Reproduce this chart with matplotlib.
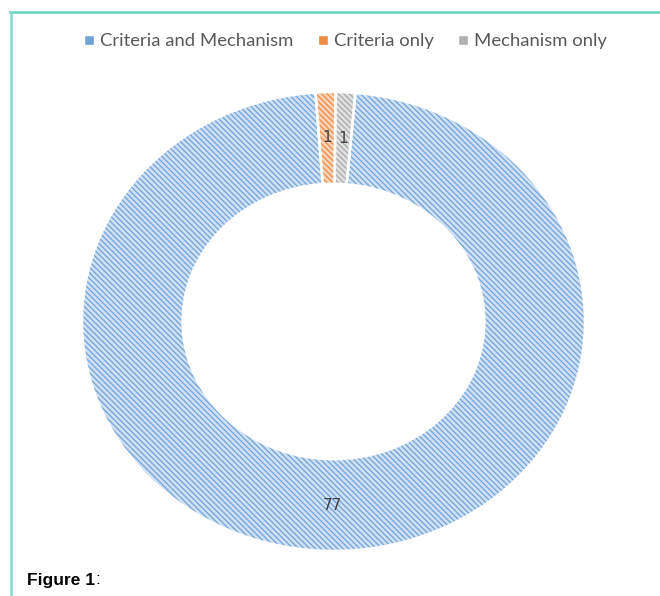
import matplotlib.pyplot as plt
from matplotlib.lines import Line2D

categories = ["Criteria and Mechanism", "Criteria only", "Mechanism only"]
counts = [77, 1, 1]
fill_colors = ["#cfe0f4", "#f9d3b8", "#e0e0e0"]
hatch_colors = ["#6fa3d8", "#ee8a45", "#a8a8a8"]
marker_colors = ["#6fa3d8", "#ee8a45", "#b0b0b0"]

total = sum(counts)

fig = plt.figure(figsize=(6.6, 5.96), dpi=100)
plt.rcParams["hatch.linewidth"] = 0.9

# donut is an ellipse in the reference, so stretch the axes
ax = fig.add_axes([82 / 660, 45 / 596, 503 / 660, 459 / 596])

wedges, texts, autotexts = ax.pie(
    counts,
    startangle=85,
    counterclock=False,
    radius=1.0,
    wedgeprops=dict(width=0.4, linewidth=0),
    autopct=lambda p: f"{round(p * total / 100)}",
    pctdistance=0.8,
    textprops=dict(color="#404040", fontsize=11, family="DejaVu Sans"),
)
for w, fc, hc in zip(wedges, fill_colors, hatch_colors):
    w.set_facecolor(fc)
    w.set_edgecolor(hc)
    w.set_hatch("\\" * 6)

# white separators on top
outline, _ = ax.pie(
    counts,
    startangle=85,
    counterclock=False,
    radius=1.0,
    colors=["none"] * len(counts),
    wedgeprops=dict(width=0.4, linewidth=1.8, edgecolor="white"),
)

ax.set_aspect("auto")
ax.set_xlim(-1.0, 1.0)
ax.set_ylim(-1.0, 1.0)

handles = [
    Line2D([], [], marker="s", linestyle="none", markersize=6.5,
           markerfacecolor=c, markeredgecolor="white")
    for c in marker_colors
]
fig.legend(
    handles, categories,
    loc="center", bbox_to_anchor=(345 / 660, 1 - 41 / 596),
    ncol=3, frameon=False, handlelength=0.6, handletextpad=0.3,
    columnspacing=1.3, prop=dict(family="Lato", size=13.3),
    labelcolor="#595959",
)

# teal frame lines
fig.add_artist(Line2D([10 / 660, 1], [1 - 12 / 596, 1 - 12 / 596],
                      color="#62d2bf", linewidth=1.8))
fig.add_artist(Line2D([11 / 660, 11 / 660], [0, 1 - 12 / 596],
                      color="#7fdccd", linewidth=1.8))

fig.text(27 / 660, 1 - 580 / 596, "Figure 1", fontsize=12.5,
         fontweight="bold", family="Liberation Sans", va="center")
fig.text(95 / 660, 1 - 580 / 596, ":", fontsize=12.5,
         family="Liberation Sans", va="center")

fig.savefig("out.png", dpi=100)
